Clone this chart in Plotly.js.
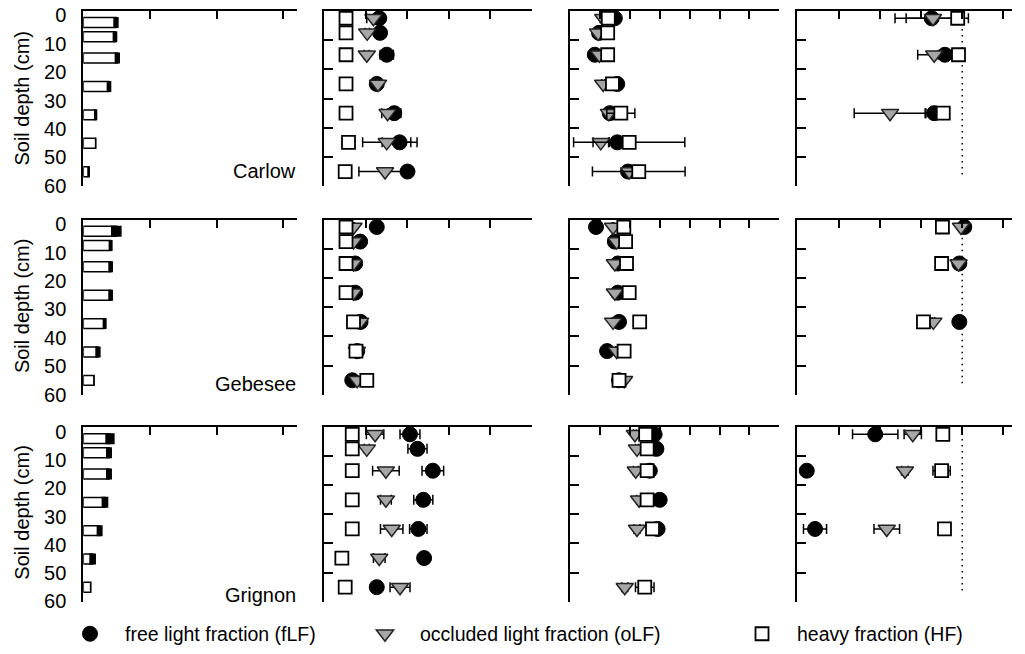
<!DOCTYPE html>
<html><head><meta charset="utf-8">
<script src="https://cdn.plot.ly/plotly-3.0.1.min.js"></script>
<style>html,body{margin:0;padding:0;background:#fff}</style>
</head><body><div id="chart" style="width:1025px;height:654px"></div>
<script>
// ---------------- data ----------------
const sites = ['Carlow', 'Gebesee', 'Grignon'];
const depths = [2.5, 7.5, 15, 25, 35, 45, 55];      // layer mid-depths (cm)
const depthsD = [2.5, 15, 35];                      // depths sampled for the 4th column
const depthTicks = [0, 10, 20, 30, 40, 50, 60];
const fractionNames = ['free light fraction (fLF)', 'occluded light fraction (oLF)', 'heavy fraction (HF)'];
const refValueD = 4;                                // dotted reference line in 4th column
const refLineDepth = [0, 57];

// Carlow
const carlowTotal      = [0.49, 0.475, 0.51, 0.385, 0.185, 0.185, 0.08];
const carlowTotalErr   = [0.04, 0.035, 0.04, 0.035, 0.025, 0.01, 0.02];
const carlowB_fLF      = [1.33, 1.35, 1.51, 1.27, 1.69, 1.82, 2.01];
const carlowB_fLF_err  = [0.05, 0.04, 0.16, 0.05, 0.16, 0.42, 0.03];
const carlowB_oLF      = [1.19, 1.04, 1.03, 1.30, 1.53, 1.51, 1.47];
const carlowB_oLF_err  = [0.16, 0.05, 0.06, 0.04, 0.14, 0.58, 0.63];
const carlowB_HF       = [0.53, 0.53, 0.53, 0.53, 0.53, 0.59, 0.51];
const carlowB_HF_err   = [0.02, 0.02, 0.02, 0.02, 0.02, 0.02, 0.02];
const carlowC_fLF      = [1.50, 0.97, 0.83, 1.58, 1.33, 1.58, 1.94];
const carlowC_fLF_err  = [0.05, 0.05, 0.05, 0.05, 0.05, 0.27, 0.05];
const carlowC_oLF      = [1.11, 0.94, 0.98, 1.11, 1.30, 1.03, 1.98];
const carlowC_oLF_err  = [0.10, 0.05, 0.05, 0.05, 0.05, 0.26, 0.05];
const carlowC_HF       = [1.28, 1.26, 1.26, 1.42, 1.70, 1.98, 2.30];
const carlowC_HF_err   = [0.05, 0.03, 0.03, 0.05, 0.47, 1.86, 1.55];
const carlowD_fLF      = [3.26, 3.58, 3.32];
const carlowD_fLF_err  = [0.89, 0.16, 0.22];
const carlowD_oLF      = [3.29, 3.32, 2.25];
const carlowD_oLF_err  = [0.65, 0.40, 0.87];
const carlowD_HF       = [3.89, 3.91, 3.54];
const carlowD_HF_err   = [0.08, 0.05, 0.05];

// Gebesee
const gebeseeTotal     = [0.495, 0.41, 0.41, 0.41, 0.32, 0.22, 0.16];
const gebeseeTotalErr  = [0.08, 0.03, 0.035, 0.035, 0.03, 0.04, 0.01];
const gebeseeB_fLF     = [1.27, 0.87, 0.75, 0.75, 0.88, 0.80, 0.68];
const gebeseeB_fLF_err = [0.02, 0.02, 0.02, 0.02, 0.02, 0.02, 0.02];
const gebeseeB_oLF     = [0.71, 0.71, 0.71, 0.71, 0.87, 0.79, 0.80];
const gebeseeB_oLF_err = [0.02, 0.02, 0.02, 0.02, 0.02, 0.02, 0.02];
const gebeseeB_HF      = [0.53, 0.53, 0.53, 0.53, 0.71, 0.77, 1.03];
const gebeseeB_HF_err  = [0.02, 0.02, 0.02, 0.02, 0.02, 0.02, 0.02];
const gebeseeC_fLF     = [0.87, 1.50, 1.60, 1.60, 1.64, 1.24, 1.64];
const gebeseeC_fLF_err = [0.03, 0.03, 0.03, 0.03, 0.10, 0.03, 0.03];
const gebeseeC_oLF     = [1.44, 1.56, 1.50, 1.50, 1.44, 1.56, 1.81];
const gebeseeC_oLF_err = [0.03, 0.03, 0.05, 0.08, 0.03, 0.03, 0.03];
const gebeseeC_HF      = [1.80, 1.86, 1.89, 1.98, 2.33, 1.81, 1.64];
const gebeseeC_HF_err  = [0.03, 0.03, 0.03, 0.03, 0.03, 0.03, 0.03];
const gebeseeD_fLF     = [4.05, 3.93, 3.93];
const gebeseeD_fLF_err = [0.03, 0.03, 0.03];
const gebeseeD_oLF     = [3.97, 3.91, 3.30];
const gebeseeD_oLF_err = [0.03, 0.03, 0.03];
const gebeseeD_HF      = [3.52, 3.50, 3.06];
const gebeseeD_HF_err  = [0.03, 0.03, 0.03];

// Grignon
const grignonTotal     = [0.40, 0.385, 0.385, 0.325, 0.245, 0.14, 0.11];
const grignonTotalErr  = [0.07, 0.045, 0.045, 0.05, 0.045, 0.05, 0.01];
const grignonB_fLF     = [2.07, 2.25, 2.62, 2.39, 2.27, 2.41, 1.27];
const grignonB_fLF_err = [0.24, 0.23, 0.26, 0.23, 0.21, 0.03, 0.03];
const grignonB_oLF     = [1.23, 1.03, 1.49, 1.49, 1.63, 1.33, 1.83];
const grignonB_oLF_err = [0.21, 0.06, 0.32, 0.13, 0.27, 0.14, 0.24];
const grignonB_HF      = [0.68, 0.68, 0.68, 0.68, 0.68, 0.43, 0.51];
const grignonB_HF_err  = [0.02, 0.02, 0.02, 0.02, 0.02, 0.02, 0.02];
const grignonC_fLF     = [2.83, 2.89, 2.67, 3.00, 2.93, null, null];
const grignonC_fLF_err = [0.15, 0.04, 0.04, 0.04, 0.04, null, null];
const grignonC_oLF     = [2.17, 2.24, 2.20, 2.31, 2.24, null, 1.83];
const grignonC_oLF_err = [0.05, 0.05, 0.08, 0.08, 0.10, null, 0.10];
const grignonC_HF      = [2.53, 2.58, 2.58, 2.58, 2.76, null, 2.50];
const grignonC_HF_err  = [0.04, 0.04, 0.04, 0.04, 0.04, null, 0.31];
const grignonD_fLF     = [1.89, 0.23, 0.43];
const grignonD_fLF_err = [0.55, 0.03, 0.28];
const grignonD_oLF     = [2.80, 2.61, 2.17];
const grignonD_oLF_err = [0.21, 0.08, 0.31];
const grignonD_HF      = [3.53, 3.50, 3.57];
const grignonD_HF_err  = [0.03, 0.21, 0.03];

// table built from the arrays above
const table = {
  Carlow: {
    total: [carlowTotal, carlowTotalErr],
    panels: [
      [[carlowB_fLF, carlowB_fLF_err], [carlowB_oLF, carlowB_oLF_err], [carlowB_HF, carlowB_HF_err]],
      [[carlowC_fLF, carlowC_fLF_err], [carlowC_oLF, carlowC_oLF_err], [carlowC_HF, carlowC_HF_err]],
      [[carlowD_fLF, carlowD_fLF_err], [carlowD_oLF, carlowD_oLF_err], [carlowD_HF, carlowD_HF_err]]
    ]
  },
  Gebesee: {
    total: [gebeseeTotal, gebeseeTotalErr],
    panels: [
      [[gebeseeB_fLF, gebeseeB_fLF_err], [gebeseeB_oLF, gebeseeB_oLF_err], [gebeseeB_HF, gebeseeB_HF_err]],
      [[gebeseeC_fLF, gebeseeC_fLF_err], [gebeseeC_oLF, gebeseeC_oLF_err], [gebeseeC_HF, gebeseeC_HF_err]],
      [[gebeseeD_fLF, gebeseeD_fLF_err], [gebeseeD_oLF, gebeseeD_oLF_err], [gebeseeD_HF, gebeseeD_HF_err]]
    ]
  },
  Grignon: {
    total: [grignonTotal, grignonTotalErr],
    panels: [
      [[grignonB_fLF, grignonB_fLF_err], [grignonB_oLF, grignonB_oLF_err], [grignonB_HF, grignonB_HF_err]],
      [[grignonC_fLF, grignonC_fLF_err], [grignonC_oLF, grignonC_oLF_err], [grignonC_HF, grignonC_HF_err]],
      [[grignonD_fLF, grignonD_fLF_err], [grignonD_oLF, grignonD_oLF_err], [grignonD_HF, grignonD_HF_err]]
    ]
  }
};

// ---------------- layout geometry (pixels) ----------------
const W = 1025, H = 654;
const colPx = [[83.3, 297.3], [324, 531.7], [570, 779.3], [797.3, 1011.7]];
const colRange = [[0, 3.21], [0, 5], [0, 7], [0, 5.2]];
const rowPx = [[11, 187], [220.7, 396.7], [429, 604.5]];
const siteLabelY = [172, 386, 598];
const titleY = [99, 307.5, 515];
const FONT = 'Liberation Sans, Arial, sans-serif';

const px2x = p => p / W;
const px2y = p => 1 - p / H;

const markerStyles = [
  {symbol: 'circle', size: 15, color: '#000000', line: {color: '#000000', width: 1}},
  {symbol: 'triangle-down', size: 15, color: '#a6a6a6', line: {color: '#222222', width: 1.5}},
  {symbol: 'square', size: 13, color: '#ffffff', line: {color: '#000000', width: 1.8}}
];
const legendIds = ['legend', 'legend2', 'legend3'];

const traces = [];
const layout = {
  width: W, height: H,
  margin: {l: 0, r: 0, t: 0, b: 0},
  paper_bgcolor: '#ffffff', plot_bgcolor: '#ffffff',
  font: {family: FONT, size: 20, color: '#000000'},
  showlegend: true,
  annotations: [], shapes: []
};

sites.forEach((site, r) => {
  for (let c = 0; c < 4; c++) {
    const idx = r * 4 + c + 1;
    const xa = idx === 1 ? 'xaxis' : 'xaxis' + idx;
    const ya = idx === 1 ? 'yaxis' : 'yaxis' + idx;
    const xr = idx === 1 ? 'x' : 'x' + idx;
    const yr = idx === 1 ? 'y' : 'y' + idx;

    layout[xa] = {
      domain: [px2x(colPx[c][0]), px2x(colPx[c][1])],
      range: colRange[c], anchor: yr, side: 'top',
      showline: true, linecolor: '#000', linewidth: 2,
      ticks: 'inside', ticklen: 8, tickwidth: 2, tickcolor: '#000',
      tick0: 0, dtick: 1, showticklabels: false,
      showgrid: false, zeroline: false, fixedrange: true
    };
    const yBase = {
      domain: [px2y(rowPx[r][1]), px2y(rowPx[r][0])],
      anchor: xr, showline: true, linecolor: '#000', linewidth: 2,
      showgrid: false, zeroline: false, fixedrange: true
    };
    if (c === 0) {
      layout[ya] = Object.assign(yBase, {
        range: [60.1, -1.6], ticks: '', tickvals: depthTicks,
        ticktext: depthTicks.map(String), showticklabels: true,
        tickfont: {family: FONT, size: 20, color: '#000'}, ticklabelstandoff: 11
      });
    } else {
      layout[ya] = Object.assign(yBase, {
        range: [60, 0], ticks: 'inside', ticklen: 9, tickwidth: 2, tickcolor: '#000',
        tickvals: depthTicks.slice(1), showticklabels: false
      });
    }

    if (c === 0) {
      const [vals, errs] = table[site].total;
      traces.push({
        type: 'bar', orientation: 'h', x: vals, y: depths, width: 3.5,
        xaxis: xr, yaxis: yr, showlegend: false, hoverinfo: 'skip',
        marker: {color: '#ffffff', line: {color: '#000000', width: 1.5}},
        error_x: {type: 'data', array: errs, visible: true, color: '#000000', thickness: 11, width: 0}
      });
    } else {
      const panel = table[site].panels[c - 1];
      const yy = c === 3 ? depthsD : depths;
      if (c === 3) {
        layout.shapes.push({
          type: 'line', xref: xr, yref: yr, x0: refValueD, x1: refValueD,
          y0: refLineDepth[0], y1: refLineDepth[1], layer: 'below',
          line: {color: '#000', width: 1.5, dash: '1.5px,4.5px'}
        });
      }
      panel.forEach((pair, f) => {
        const first = (r === 0 && c === 1);
        traces.push({
          type: 'scatter', mode: 'markers', x: pair[0], y: yy,
          xaxis: xr, yaxis: yr, name: fractionNames[f],
          legend: legendIds[f], showlegend: first, cliponaxis: false,
          hoverinfo: 'skip',
          marker: markerStyles[f],
          error_x: {type: 'data', array: pair[1], visible: true, color: '#000000', thickness: 1.5, width: 5}
        });
      });
    }
  }
  layout.annotations.push({
    xref: 'paper', yref: 'paper', x: px2x(298), y: px2y(siteLabelY[r]),
    xanchor: 'right', yanchor: 'middle', text: site, showarrow: false,
    font: {family: FONT, size: 20, color: '#000'}
  });
  layout.annotations.push({
    xref: 'paper', yref: 'paper', x: px2x(22), y: px2y(titleY[r]),
    xanchor: 'center', yanchor: 'middle', text: 'Soil depth (cm)', textangle: -90,
    showarrow: false, font: {family: FONT, size: 20, color: '#000'}
  });
});

const legendX = [55, 350, 727];
legendIds.forEach((id, i) => {
  layout[id] = {
    x: px2x(legendX[i]), xanchor: 'left', y: px2y(637), yanchor: 'middle',
    orientation: 'h', itemwidth: 60, bgcolor: 'rgba(0,0,0,0)', borderwidth: 0,
    font: {family: FONT, size: 19.5, color: '#000'}
  };
});

Plotly.newPlot('chart', traces, layout, {staticPlot: true, displayModeBar: false});
</script>
</body></html>
